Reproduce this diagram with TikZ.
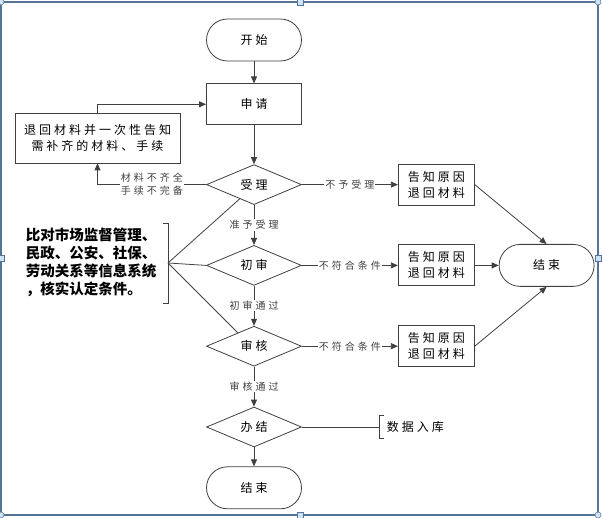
\documentclass[tikz,border=0pt]{standalone}
\usepackage{fontspec}
\usepackage{tikz}
\usetikzlibrary{calc, positioning, arrows.meta, shapes.geometric}
\newfontfamily\cjk[LetterSpace=25]{Noto Sans CJK SC}
\newfontfamily\cjksmall[LetterSpace=30]{Noto Sans CJK SC}
\newfontfamily\cjkplain{Noto Sans CJK SC}
\definecolor{frameblue}{RGB}{84, 115, 150}
\definecolor{handlefill}{RGB}{205, 228, 242}
\definecolor{linegray}{RGB}{64, 64, 64}

\tikzset{
  term/.style={draw=linegray, rounded corners=21pt, minimum width=95pt, minimum height=42pt, inner sep=0pt, font=\cjk\fontsize{12}{14}\selectfont},
  procbox/.style={draw=linegray, minimum width=95pt, minimum height=41pt, inner sep=0pt, align=center, font=\cjk\fontsize{12}{16}\selectfont},
  tellbox/.style={procbox, minimum width=76pt},
  decide/.style={draw=linegray, diamond, minimum width=95pt, minimum height=40pt, inner sep=0pt, font=\cjk\fontsize{12}{14}\selectfont},
  lbl/.style={fill=white, inner sep=1pt, align=center, font=\cjksmall\fontsize{10}{13}\selectfont},
  handle/.style={draw=frameblue, fill=handlefill, line width=0.5pt}
}

\begin{document}
\begin{tikzpicture}[x=1pt, y=-1pt, >={Triangle[length=7pt,width=6pt]}, line width=0.8pt, node distance=40pt]
  \useasboundingbox (0,0) rectangle (602,518);
  % window frame
  \draw[frameblue, line width=1.2pt] (1,2) rectangle (598,515);
  \foreach \p in {(300,2), (300,515), (598,258), (1,258)}
    \draw[handle] \p ++(-3,-3) rectangle ++(6,6);
  \foreach \p in {(1,2), (598,2), (1,515), (598,515)}
    \draw[handle] \p circle (3);

  % main column
  \node[term] (start) at (254,40) {开始};
  \node[procbox, below=22pt of start] (apply) {申请};
  \node[decide, below=39pt of apply] (shou) {受理};
  \node[decide, below=of shou] (chu) {初审};
  \node[decide, below=of chu] (shen) {审核};
  \node[decide, below=of shen] (ban) {办结};
  \node[term, below=19pt of ban] (fin) {结束};

  % left side
  \node[procbox, minimum width=165pt, minimum height=50pt] (ret) at (97.5,138) {退回材料并一次性告知\\需补齐的材料、手续};
  \coordinate (brk) at (168,263);
  \node[font=\cjkplain\bfseries\fontsize{14.5}{18}\selectfont, align=left, inner sep=0pt] (note) at (91,262)
    {比对市场监督管理、\\民政、公安、社保、\\劳动关系等信息系统\\，核实认定条件。};

  % right side
  \node[tellbox, right=96pt of shou] (tell1) {告知原因\\退回材料};
  \node[tellbox, right=96pt of chu] (tell2) {告知原因\\退回材料};
  \node[tellbox, right=96pt of shen] (tell3) {告知原因\\退回材料};
  \node[term, right=24pt of tell2] (endr) {结束};
  \node[right=77.5pt of ban, minimum height=22pt, inner sep=0pt, inner xsep=7pt, font=\cjk\fontsize{12}{14}\selectfont] (store) {数据入库};

  % connectors
  \draw[->, linegray] (start) -- (apply);
  \draw[->, linegray] (apply) -- (shou);
  \draw[->, linegray] (shou) -- (chu) node[midway, lbl] (ok1) {准予受理};
  \draw[->, linegray] (chu) -- (shen) node[midway, lbl] (ok2) {初审通过};
  \draw[->, linegray] (shen) -- (ban) node[midway, lbl] (ok3) {审核通过};
  \draw[->, linegray] (ban) -- (fin);
  \draw[->, linegray] (ret.north) |- (apply.west);
  \draw[->, linegray] (shou.west) -| (ret.south)
    node[pos=0.25, lbl] (lack) {材料不齐全\\手续不完备};
  \draw[->, linegray] (shou.east) -- (tell1.west) node[midway, lbl] (no1) {不予受理};
  \draw[->, linegray] (chu.east) -- (tell2.west) node[midway, lbl] (no2) {不符合条件};
  \draw[->, linegray] (shen.east) -- (tell3.west) node[midway, lbl] (no3) {不符合条件};
  \draw[->, linegray] (tell1.east) -- (endr.north);
  \draw[->, linegray] (tell2.east) -- (endr.west);
  \draw[->, linegray] (tell3.east) -- (endr.south);
  \draw[linegray] (ban.east) -- (store.west);
  \draw[linegray] ($(store.north west)+(5,0)$) -- (store.north west) -- (store.south west) -- ++(5,0);

  % bracket of the note
  \draw[linegray] ($(brk)+(-5,-40)$) -- ($(brk)+(0,-40)$) -- ($(brk)+(0,40)$) -- ($(brk)+(-5,40)$);
  \draw[linegray] (brk) -- ($(shou.west)!0.7!(shou.south)$);
  \draw[linegray] (brk) -- (chu.west);
  \draw[linegray] (brk) -- ($(shen.west)!0.66!(shen.north)$);
\end{tikzpicture}
\end{document}
